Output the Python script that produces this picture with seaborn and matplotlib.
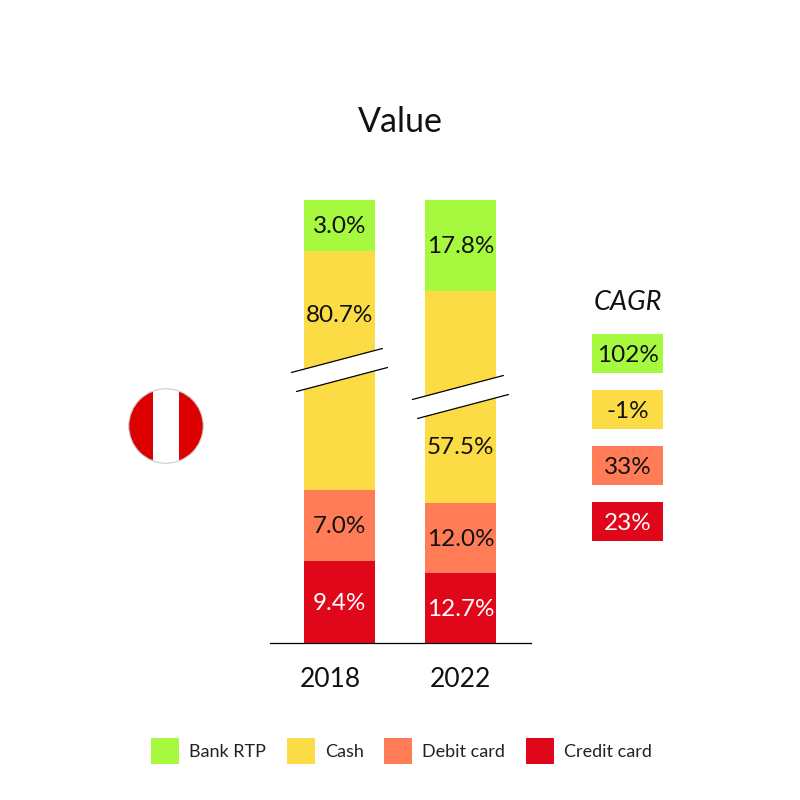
import numpy as np
import pandas as pd
import matplotlib.pyplot as plt
import seaborn as sns
from matplotlib.patches import Polygon, Circle, Rectangle
from matplotlib.transforms import ScaledTranslation

years = ['2018', '2022']
methods = ['Bank RTP', 'Cash', 'Debit card', 'Credit card']
colors = ['#A6F93F', '#FCDC44', '#FF7C57', '#E1071A']

# shares as printed on the bars
share_2018 = ['3.0%', '80.7%', '7.0%', '9.4%']
share_2022 = ['17.8%', '57.5%', '12.0%', '12.7%']

# drawn segment heights (the axis is broken, so not to scale)
drawn_2018 = [51, 239, 71, 82]
drawn_2022 = [91, 212, 70, 70]

# where the axis break sits, and the label height for the broken cash segment
break_height = [273, 246]
cash_label_height = [329, 197]

cagr_labels = ['102%', '-1%', '33%', '23%']
cagr_tile = [1, 1, 1, 1]

FONT = 'Lato'

sns.set_theme(style='white')
plt.rcParams['font.family'] = [FONT, 'DejaVu Sans']

W = 800
fig = plt.figure(figsize=(8, 8), dpi=100)


def px_axes(left, top, right, bottom):
    return fig.add_axes([left / W, 1 - bottom / W, (right - left) / W, (bottom - top) / W])


# 1. stacked bars (cumulative tops drawn tallest first)
rows = []
for year, drawn in zip(years, [drawn_2018, drawn_2022]):
    tops = np.cumsum(drawn[::-1])[::-1]
    for method, top, h in zip(methods, tops, drawn):
        rows.append({'year': year, 'method': method, 'top': top, 'height': h})
df = pd.DataFrame(rows)

ax = px_axes(270, 200, 531, 643)
sns.barplot(data=df, x='year', y='top', hue='method', hue_order=methods, palette=colors,
            dodge=False, width=0.587, saturation=1, linewidth=0, ax=ax)
ax.set_xlim(-0.574, 1.583)
ax.set_ylim(0, 443)
ax.set_xlabel('')
ax.set_ylabel('')
ax.set_yticks([])
ax.tick_params(axis='x', length=0, pad=17, labelsize=19, colors='#111111')
sns.despine(ax=ax, left=True)
ax.spines['bottom'].set_color('black')
ax.spines['bottom'].set_linewidth(0.9)

# the 2018 year label sits left of its bar in the original
lab_2018 = ax.get_xticklabels()[0]
lab_2018.set_transform(lab_2018.get_transform() + ScaledTranslation(-9 / 100, 0, fig.dpi_scale_trans))

# segment labels
for i, shares in enumerate([share_2018, share_2022]):
    sub = df[df['year'] == years[i]]
    for j, (share, top, h) in enumerate(zip(shares, sub['top'], sub['height'])):
        y = top - h / 2
        if methods[j] == 'Cash':
            y = cash_label_height[i]
        txt_color = 'white' if methods[j] == 'Credit card' else '#111111'
        ax.text(i, y - 1, share, ha='center', va='center', fontsize=17.5, color=txt_color, zorder=5)

# axis break marks
dx = 0.376
rise = 12
gap = 19
shift = 0.021
for i, yb in enumerate(break_height):
    upper = [(i - dx - shift, yb - rise + gap / 2), (i + dx - shift, yb + rise + gap / 2)]
    lower = [(i - dx + shift, yb - rise - gap / 2), (i + dx + shift, yb + rise - gap / 2)]
    ax.add_patch(Polygon(upper + lower[::-1], closed=True, fc='white', ec='none', zorder=3, clip_on=False))
    for seg in (upper, lower):
        ax.plot(*zip(*seg), color='black', lw=0.9, zorder=4, clip_on=False)

# 2. legend
handles, labels = ax.get_legend_handles_labels()
ax.get_legend().remove()
fig.legend(handles, labels, loc='center', bbox_to_anchor=(401.5 / W, 1 - 751 / W), ncol=4, frameon=False,
           fontsize=13, handlelength=1.55, handleheight=1.9, handletextpad=0.55, columnspacing=1.15,
           labelcolor='#222222')

# 3. CAGR tiles
cagr_ax = px_axes(592, 334, 663, 541)
sns.barplot(x=cagr_tile, y=methods, hue=methods, palette=colors, width=0.696, saturation=1, linewidth=0,
            legend=False, orient='h', ax=cagr_ax)
cagr_ax.set_xlim(0, 1)
cagr_ax.set_ylim(3.348, -0.348)
cagr_ax.axis('off')
for i, lab in enumerate(cagr_labels):
    cagr_ax.text(0.5, i + 0.03, lab, ha='center', va='center', fontsize=17.5,
                 color='white' if i == 3 else '#111111')
fig.text(628 / W, 1 - 303 / W, 'CAGR', ha='center', va='center', fontsize=19.5, style='italic', color='#111111')

# title
fig.text(400 / W, 1 - 122 / W, 'Value', ha='center', va='center', fontsize=24.5, color='#111111')

# 4. Peru flag
flag_ax = px_axes(128, 388, 204, 464)
flag_ax.set_xlim(0, 3)
flag_ax.set_ylim(0, 3)
flag_ax.axis('off')
disc = Circle((1.5, 1.5), 1.47, fc='none', ec='#CCCCCC', lw=0.8, zorder=3)
flag_ax.add_patch(disc)
for x0, col in zip([0, 1, 2], ['#DC0000', 'white', '#DC0000']):
    strip = Rectangle((x0, 0), 1, 3, fc=col, ec='none')
    flag_ax.add_patch(strip)
    strip.set_clip_path(disc)

fig.savefig('out.png', dpi=100)
